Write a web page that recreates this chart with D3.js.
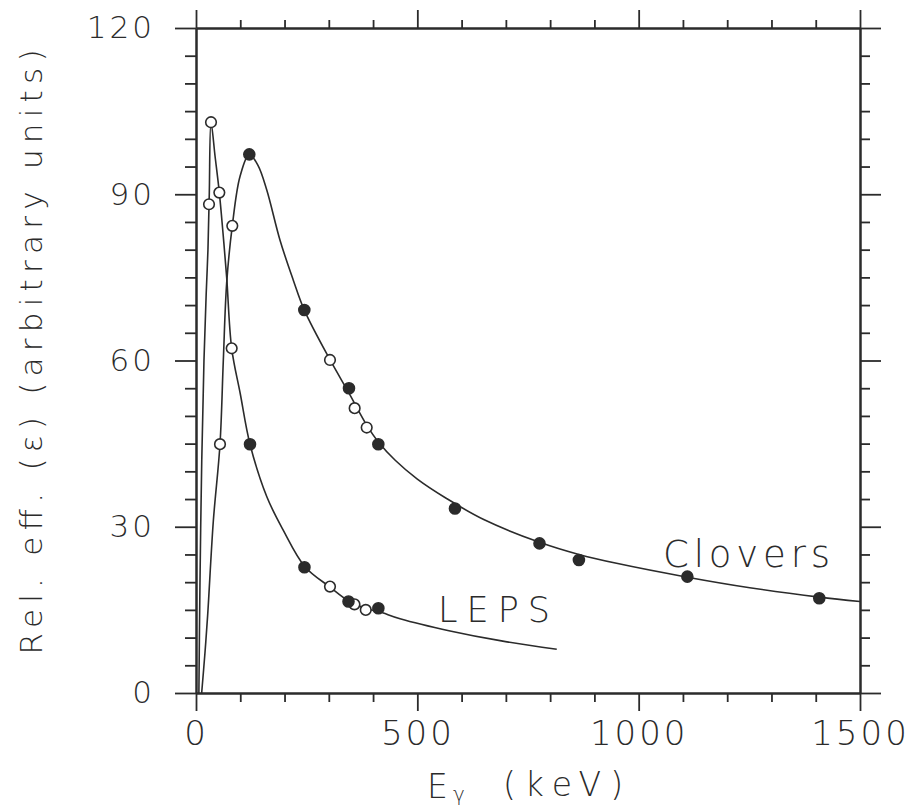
<!DOCTYPE html>
<html>
<head>
<meta charset="utf-8">
<script src="https://cdn.jsdelivr.net/npm/d3@7"></script>
<style>
  html, body { margin: 0; padding: 0; background: #fff; }
  svg { display: block; }
  text { font-family: "DejaVu Sans", sans-serif; fill: #2b2b2b; font-weight: 200; }
</style>
</head>
<body>
<svg id="chart" width="912" height="807"></svg>
<script>
// ---------- data ----------
const energyMajorTicks = [0, 500, 1000, 1500];
const energyMinorTicks = [100, 200, 300, 400, 600, 700, 800, 900, 1100, 1200, 1300, 1400];
const effMajorTicks = [0, 30, 60, 90, 120];
const effMinorTicks = [5, 10, 15, 20, 25, 35, 40, 45, 50, 55, 65, 70, 75, 80, 85, 95, 100, 105, 110, 115];

// fitted curves
const lepsCurveE = [6.5, 9, 13, 18, 23, 27, 30, 33.9, 43, 52.7, 61, 69.3, 80.6, 100, 122, 160, 197, 246, 303, 345, 385, 413, 461, 574, 690, 815];
const lepsCurveV = [0, 20, 42, 60, 72, 80, 90, 103, 96.9, 90.3, 83, 75, 62.2, 54, 44.9, 35.4, 29.4, 22.8, 19.1, 16.6, 15.2, 14.7, 13.4, 11.2, 9.4, 7.9];
const cloverCurveE = [12.8, 20, 26.3, 39.1, 54.2, 61.7, 69.3, 82, 99.4, 120.4, 140, 159.7, 189.8, 219.8, 244.7, 303, 345, 386, 412, 450, 500, 566, 650, 776, 865, 950, 1110, 1251, 1408, 1500];
const cloverCurveV = [0, 7, 14, 31, 44.9, 60, 74, 84.3, 93.2, 97.2, 95.2, 90.8, 81.7, 74.5, 69.1, 60.1, 54.2, 48.3, 45.3, 42, 38.6, 35.1, 31.3, 27.2, 25, 23.4, 20.9, 19.0, 17.3, 16.5];

// measured points
const lepsOpenE = [29.4, 33.9, 52.7, 80.6, 302.7, 358, 383.5];
const lepsOpenV = [88.2, 103, 90.3, 62.2, 19.2, 16.0, 15.0];
const lepsFilledE = [122, 245, 344.5, 412];
const lepsFilledV = [44.9, 22.7, 16.5, 15.3];
const cloverOpenE = [54.2, 82, 302.7, 358.4, 385.6];
const cloverOpenV = [44.9, 84.3, 60.1, 51.4, 47.9];
const cloverFilledE = [120.4, 244.7, 345.6, 411.9, 585, 776, 865, 1110, 1408];
const cloverFilledV = [97.2, 69.1, 55, 44.9, 33.3, 27, 24, 21, 17.1];

const xLabel = "E";
const xLabelSub = "γ";
const xLabelUnit = "(keV)";
const yLabel = "Rel. eff. (ε) (arbitrary units)";
const seriesNames = ["Clovers", "LEPS"];

// ---------- drawing ----------
const ink = "#2b2b2b";
const svg = d3.select("#chart");
const pL = 196, pR = 860, pT = 28, pB = 693;
const x = d3.scaleLinear().domain([0, 1500]).range([pL, pR]);
const y = d3.scaleLinear().domain([0, 120]).range([pB, pT]);

const zip = (a, b) => a.map((v, i) => [v, b[i]]);

function styleAxis(g) {
  g.select(".domain").attr("stroke", ink).attr("stroke-width", 2);
  g.selectAll(".tick line").attr("stroke", ink).attr("stroke-width", 1.8);
}

// minor ticks
svg.append("g").attr("transform", `translate(0,${pB})`)
  .call(d3.axisBottom(x).tickValues(energyMinorTicks).tickSize(9).tickSizeOuter(0).tickFormat(""))
  .call(styleAxis);
svg.append("g").attr("transform", `translate(0,${pT})`)
  .call(d3.axisTop(x).tickValues(energyMinorTicks).tickSize(8).tickSizeOuter(0).tickFormat(""))
  .call(styleAxis);
svg.append("g").attr("transform", `translate(${pL},0)`)
  .call(d3.axisLeft(y).tickValues(effMinorTicks).tickSize(11).tickSizeOuter(0).tickFormat(""))
  .call(styleAxis);
svg.append("g").attr("transform", `translate(${pR},0)`)
  .call(d3.axisRight(y).tickValues(effMinorTicks).tickSize(10).tickSizeOuter(0).tickFormat(""))
  .call(styleAxis);

// major ticks
const gx = svg.append("g").attr("transform", `translate(0,${pB})`)
  .call(d3.axisBottom(x).tickValues(energyMajorTicks).tickSize(18).tickSizeOuter(0).tickPadding(10).tickFormat(d3.format("d")))
  .call(styleAxis);
gx.selectAll(".tick text").attr("font-size", 34).attr("font-family", "DejaVu Sans").attr("fill", ink)
  .attr("letter-spacing", 3).attr("dy", "0.71em");
svg.append("g").attr("transform", `translate(0,${pT})`)
  .call(d3.axisTop(x).tickValues(energyMajorTicks).tickSize(18).tickSizeOuter(0).tickFormat(""))
  .call(styleAxis);
const gy = svg.append("g").attr("transform", `translate(${pL},0)`)
  .call(d3.axisLeft(y).tickValues(effMajorTicks).tickSize(21).tickSizeOuter(0).tickPadding(41 - 21).tickFormat(d3.format("d")))
  .call(styleAxis);
gy.selectAll(".tick text").attr("font-size", 31).attr("font-family", "DejaVu Sans").attr("fill", ink)
  .attr("letter-spacing", 3);
svg.append("g").attr("transform", `translate(${pR},0)`)
  .call(d3.axisRight(y).tickValues(effMajorTicks).tickSize(21).tickSizeOuter(0).tickFormat(""))
  .call(styleAxis);

// curves
const line = d3.line().x(d => x(d[0])).y(d => y(d[1])).curve(d3.curveCatmullRom.alpha(0.5));
svg.append("path").datum(zip(lepsCurveE, lepsCurveV)).attr("d", line)
  .attr("fill", "none").attr("stroke", ink).attr("stroke-width", 1.6);
svg.append("path").datum(zip(cloverCurveE, cloverCurveV)).attr("d", line)
  .attr("fill", "none").attr("stroke", ink).attr("stroke-width", 1.6);

// markers
function markers(E, V, filled) {
  svg.append("g").selectAll("circle").data(zip(E, V)).join("circle")
    .attr("cx", d => x(d[0])).attr("cy", d => y(d[1]))
    .attr("r", filled ? 5.5 : 5.3)
    .attr("fill", filled ? ink : "#fff")
    .attr("stroke", ink).attr("stroke-width", 1.6);
}
markers(lepsOpenE, lepsOpenV, false);
markers(cloverOpenE, cloverOpenV, false);
markers(lepsFilledE, lepsFilledV, true);
markers(cloverFilledE, cloverFilledV, true);

// series labels
svg.append("text").attr("x", 663).attr("y", 567).attr("font-size", 37)
  .attr("textLength", 167).attr("lengthAdjust", "spacing").text(seriesNames[0]);
svg.append("text").attr("x", 438).attr("y", 622).attr("font-size", 35)
  .attr("textLength", 112).attr("lengthAdjust", "spacing").text(seriesNames[1]);

// axis titles
svg.append("text").attr("x", 427).attr("y", 798).attr("font-size", 33).text(xLabel);
svg.append("text").attr("x", 453).attr("y", 801).attr("font-size", 20).text(xLabelSub);
svg.append("text").attr("x", 503).attr("y", 796).attr("font-size", 33)
  .attr("textLength", 120).attr("lengthAdjust", "spacing").text(xLabelUnit);

svg.append("text")
  .attr("transform", `translate(42,352) rotate(-90)`)
  .attr("text-anchor", "middle").attr("font-size", 31)
  .attr("textLength", 605).attr("lengthAdjust", "spacing")
  .text(yLabel);
</script>
</body>
</html>
